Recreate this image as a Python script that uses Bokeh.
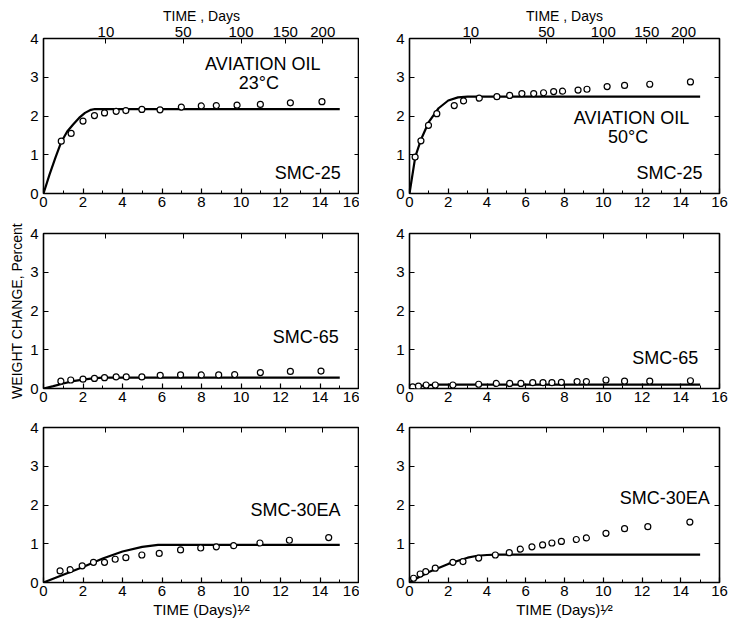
import math
from bokeh.plotting import figure
from bokeh.layouts import column, row
from bokeh.models import (LinearAxis, FixedTicker, CustomJSTickFormatter, Label, Range1d)
from bokeh.embed import file_html
from bokeh.resources import INLINE

FONT = "Liberation Sans"

# ---------------- data (x = sqrt(days), y = weight change %) ----------------
# SMC-25, aviation oil 23C
a23_x = [0.9, 1.4, 2.0, 2.58, 3.09, 3.68, 4.17, 4.98, 5.9, 6.98, 7.99, 8.75, 9.8, 10.98, 12.5, 14.1]
a23_y = [1.35, 1.55, 1.87, 2.01, 2.08, 2.12, 2.14, 2.17, 2.16, 2.23, 2.26, 2.27, 2.28, 2.30, 2.34, 2.37]
a23_fx = [0, 0.3, 0.6, 0.9, 1.2, 1.5, 1.8, 2.1, 2.4, 2.6, 15]
a23_fy = [0, 0.48, 0.92, 1.33, 1.6, 1.78, 1.95, 2.08, 2.16, 2.18, 2.18]

# SMC-25, aviation oil 50C
a50_x = [0.29, 0.59, 0.98, 1.41, 2.31, 2.79, 3.6, 4.51, 5.17, 5.8, 6.41, 6.92, 7.44, 7.9, 8.7, 9.16, 10.2, 11.1, 12.4, 14.5]
a50_y = [0.94, 1.36, 1.76, 2.06, 2.27, 2.39, 2.46, 2.50, 2.53, 2.58, 2.58, 2.60, 2.63, 2.64, 2.67, 2.69, 2.76, 2.79, 2.82, 2.88]
a50_fx = [0, 0.3, 0.6, 1.0, 1.5, 2.0, 2.5, 3.0, 15]
a50_fy = [0, 0.95, 1.4, 1.85, 2.2, 2.4, 2.48, 2.5, 2.5]

# SMC-65, 23C
b23_x = [0.88, 1.38, 2.0, 2.58, 3.09, 3.68, 4.19, 4.98, 5.91, 6.94, 7.99, 8.87, 9.68, 10.98, 12.5, 14.05]
b23_y = [0.19, 0.22, 0.24, 0.26, 0.28, 0.30, 0.30, 0.30, 0.34, 0.35, 0.35, 0.35, 0.36, 0.41, 0.44, 0.45]
b23_fx = [0, 0.5, 1.0, 1.5, 2.0, 2.5, 3.0, 15]
b23_fy = [0, 0.06, 0.13, 0.19, 0.23, 0.26, 0.28, 0.28]

# SMC-65, 50C
b50_x = [0.17, 0.46, 0.86, 1.33, 2.24, 3.57, 4.48, 5.17, 5.75, 6.36, 6.89, 7.35, 7.84, 8.65, 9.13, 10.14, 11.1, 12.4, 14.5]
b50_y = [0.04, 0.06, 0.09, 0.09, 0.09, 0.11, 0.13, 0.13, 0.13, 0.15, 0.15, 0.15, 0.16, 0.18, 0.18, 0.22, 0.19, 0.19, 0.20]
b50_fx = [0, 0.3, 0.6, 1.0, 1.5, 15]
b50_fy = [0, 0.04, 0.07, 0.09, 0.1, 0.1]

# SMC-30EA, 23C
c23_x = [0.84, 1.35, 1.96, 2.53, 3.09, 3.63, 4.17, 4.98, 5.86, 6.94, 7.96, 8.75, 9.63, 10.96, 12.45, 14.44]
c23_y = [0.30, 0.33, 0.43, 0.52, 0.52, 0.60, 0.64, 0.71, 0.75, 0.84, 0.89, 0.92, 0.95, 1.02, 1.09, 1.16]
c23_fx = [0, 1, 2, 3, 4, 5, 5.8, 15]
c23_fy = [0, 0.2, 0.4, 0.62, 0.8, 0.92, 0.97, 0.97]

# SMC-30EA, 50C
c50_x = [0.21, 0.55, 0.84, 1.33, 2.24, 2.76, 3.57, 4.43, 5.15, 5.72, 6.32, 6.87, 7.35, 7.84, 8.61, 9.13, 10.14, 11.1, 12.3, 14.47]
c50_y = [0.11, 0.22, 0.28, 0.37, 0.52, 0.54, 0.63, 0.71, 0.77, 0.86, 0.92, 0.97, 1.02, 1.06, 1.11, 1.15, 1.27, 1.39, 1.44, 1.56]
c50_fx = [0, 0.5, 1, 2, 3, 3.5, 4, 4.5, 15]
c50_fy = [0, 0.14, 0.27, 0.48, 0.64, 0.69, 0.71, 0.72, 0.72]

x_ticks = [0, 2, 4, 6, 8, 10, 12, 14, 16]
x_minor = [1, 3, 5, 7, 9, 11, 13, 15]
y_ticks = [0, 1, 2, 3, 4]
day_ticks = [10, 50, 100, 150, 200]

TOP_TITLE = "TIME , Days"
BOTTOM_TITLE = "TIME (Days)\u00b9\u2044\u00b2"
Y_TITLE = "WEIGHT CHANGE, Percent"

# ---------------- layout parameters ----------------
COLS = [dict(left=43, right=0, fw=316), dict(left=50, right=10, fw=310)]
ROWS = [dict(top=38, bottom=22), dict(top=18, bottom=22), dict(top=17, bottom=41)]
FH = 155

BLANK = "return '';"


def make_panel(r, c, px, py, fx, fy, labels):
    cc, rr = COLS[c], ROWS[r]
    p = figure(frame_width=cc["fw"], frame_height=FH,
               x_range=Range1d(0, 16), y_range=Range1d(0, 4),
               min_border_left=cc["left"], min_border_right=cc["right"],
               min_border_top=rr["top"], min_border_bottom=rr["bottom"],
               output_backend="svg", toolbar_location=None, tools="")
    p.xgrid.visible = False
    p.ygrid.visible = False
    p.outline_line_color = "black"
    p.outline_line_width = 1.6
    p.background_fill_color = "white"
    p.border_fill_color = "white"

    xa = p.xaxis[0]
    xa.ticker = FixedTicker(ticks=x_ticks, minor_ticks=x_minor)
    ya = p.yaxis[0]
    ya.ticker = FixedTicker(ticks=y_ticks, minor_ticks=[])
    for ax in (xa, ya):
        ax.axis_line_color = None
        ax.major_tick_in = 5
        ax.major_tick_out = 0
        ax.minor_tick_in = 3
        ax.minor_tick_out = 0
        ax.major_tick_line_color = "black"
        ax.minor_tick_line_color = "black"
        ax.major_tick_line_width = 1.2
        ax.major_label_text_font = FONT
        ax.major_label_text_font_size = "15px"
        ax.major_label_text_color = "black"
        ax.axis_label_text_font = FONT
        ax.axis_label_text_font_style = "normal"
        ax.axis_label_text_color = "black"
    xa.major_label_standoff = 3
    ya.major_label_standoff = 5

    # right axis: ticks only
    ra = LinearAxis(ticker=FixedTicker(ticks=y_ticks, minor_ticks=[]),
                    formatter=CustomJSTickFormatter(code=BLANK),
                    axis_line_color=None, major_tick_in=5, major_tick_out=0,
                    minor_tick_in=0, minor_tick_out=0, major_label_standoff=0)
    p.add_layout(ra, "right")

    # top axis: sqrt(days) positions
    code = "return String(Math.round(tick*tick));" if r == 0 else BLANK
    ta = LinearAxis(ticker=FixedTicker(ticks=[math.sqrt(d) for d in day_ticks], minor_ticks=[]),
                    formatter=CustomJSTickFormatter(code=code),
                    axis_line_color=None, major_tick_in=5, major_tick_out=0,
                    minor_tick_in=0, minor_tick_out=0,
                    major_label_standoff=2 if r == 0 else 0,
                    major_label_text_font=FONT, major_label_text_font_size="15px",
                    major_label_text_color="black")
    if r == 0:
        ta.axis_label = TOP_TITLE
        ta.axis_label_text_font = FONT
        ta.axis_label_text_font_size = "14px"
        ta.axis_label_text_font_style = "normal"
        ta.axis_label_text_color = "black"
        ta.axis_label_standoff = 0
    p.add_layout(ta, "above")

    if r == 2:
        xa.axis_label = BOTTOM_TITLE
        xa.axis_label_text_font_size = "15px"
        xa.axis_label_standoff = 2
    if r == 1 and c == 0:
        ya.axis_label = Y_TITLE
        ya.axis_label_text_font_size = "14px"
        ya.axis_label_standoff = 2

    p.line(fx, fy, line_color="black", line_width=2.2)
    p.scatter(px, py, marker="circle", size=6, fill_color="white",
              line_color="black", line_width=1.2)

    for (t, x, y, align) in labels:
        p.add_layout(Label(x=x, y=y, text=t, text_align=align, text_baseline="middle",
                           text_font=FONT, text_font_size="18px", text_color="black"))
    return p


p1 = make_panel(0, 0, a23_x, a23_y, a23_fx, a23_fy, [
    ("AVIATION OIL", 11.1, 3.35, "center"),
    ("23°C", 10.9, 2.86, "center"),
    ("SMC-25", 15.05, 0.54, "right"),
])
p2 = make_panel(0, 1, a50_x, a50_y, a50_fx, a50_fy, [
    ("AVIATION OIL", 11.46, 1.96, "center"),
    ("50°C", 11.28, 1.45, "center"),
    ("SMC-25", 15.12, 0.54, "right"),
])
p3 = make_panel(1, 0, b23_x, b23_y, b23_fx, b23_fy, [
    ("SMC-65", 14.95, 1.32, "right"),
])
p4 = make_panel(1, 1, b50_x, b50_y, b50_fx, b50_fy, [
    ("SMC-65", 14.9, 0.80, "right"),
])
p5 = make_panel(2, 0, c23_x, c23_y, c23_fx, c23_fy, [
    ("SMC-30EA", 15.04, 1.86, "right"),
])
p6 = make_panel(2, 1, c50_x, c50_y, c50_fx, c50_fy, [
    ("SMC-30EA", 15.5, 2.19, "right"),
])

layout = column(row(p1, p2), row(p3, p4), row(p5, p6))
open("out.html", "w").write(file_html(layout, INLINE))
